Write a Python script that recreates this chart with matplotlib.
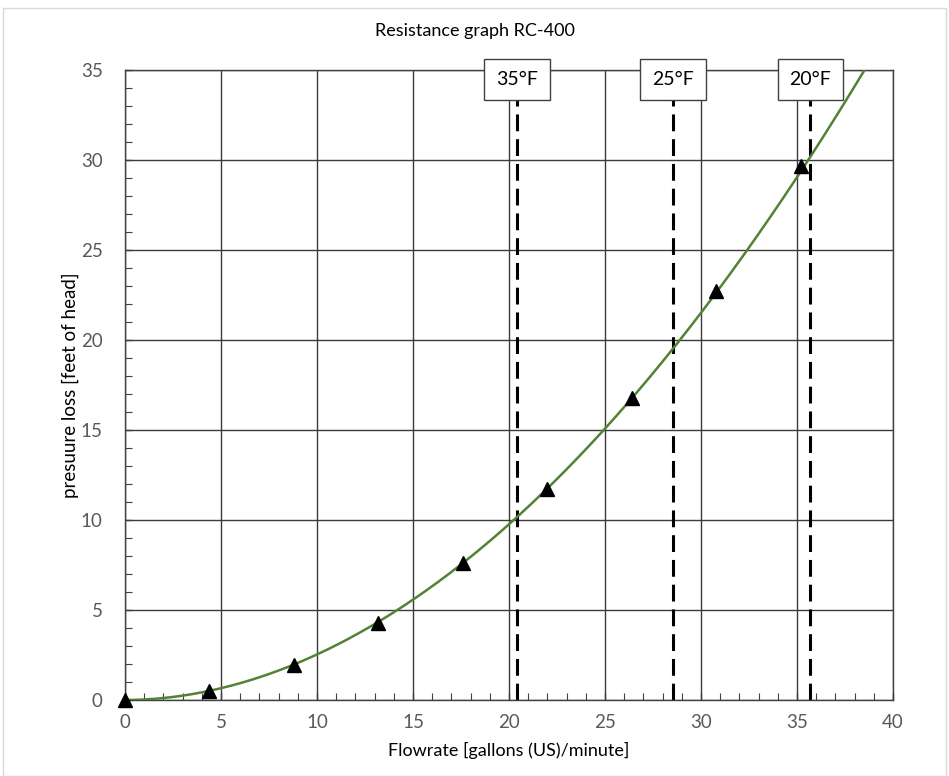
import numpy as np
import matplotlib
matplotlib.use("Agg")
import matplotlib.pyplot as plt
from matplotlib.patches import Rectangle
from matplotlib.ticker import MultipleLocator

plt.rcParams['font.family'] = ['Lato', 'DejaVu Sans']

# mesures (débit en gpm, perte de charge en pieds)
flow = [0, 4.4, 8.8, 13.2, 17.6, 22.0, 26.4, 30.8, 35.2]
loss = [0, 0.52, 1.94, 4.3, 7.6, 11.7, 16.8, 22.75, 29.65]

# limites de température
temp_flow = [20.4, 28.55, 35.7]
temp_labels = ["35°F", "25°F", "20°F"]

fig = plt.figure(figsize=(9.49, 7.76), dpi=100)
ax = fig.add_axes([125/949, 1-700/776, 768/949, 630/776])

# bordure de la zone graphique
fig.patches.append(Rectangle((3/949, 0), 943/949, 1-8/776, transform=fig.transFigure,
                             fill=False, edgecolor='#d9d9d9', lw=1))

# courbe de tendance (puissance) calculée depuis les mesures
x = np.array(flow[1:])
y = np.array(loss[1:])
b, lna = np.polyfit(np.log(x), np.log(y), 1)
xs = np.linspace(0, 40, 400)
ax.plot(xs, np.exp(lna) * xs**b, color='#548235', lw=1.8, zorder=3)

ax.plot(flow, loss, '^', color='black', ms=10, zorder=4, clip_on=False)

for xf, lab in zip(temp_flow, temp_labels):
    ax.axvline(xf, color='black', lw=2.2, dashes=(5.5, 2.6), zorder=2)
    ax.text(xf, 34.95, lab, ha='center', va='top', fontsize=14, zorder=5,
            bbox=dict(boxstyle='square,pad=0.62', fc='white', ec='#404040', lw=1))

ax.set_xlim(0, 40)
ax.set_ylim(0, 35)
ax.xaxis.set_major_locator(MultipleLocator(5))
ax.yaxis.set_major_locator(MultipleLocator(5))
ax.xaxis.set_minor_locator(MultipleLocator(1))
ax.yaxis.set_minor_locator(MultipleLocator(1))
ax.grid(True, which='major', color='#3a3a3a', lw=1, zorder=1)
ax.tick_params(which='both', direction='in', colors='#404040', labelcolor='#595959',
               labelsize=13.5)
ax.tick_params(which='major', length=5, width=1)
ax.tick_params(which='minor', length=5, width=0.8)
ax.tick_params(axis='y', which='major', pad=16)
ax.tick_params(axis='x', which='major', pad=10)
for s in ax.spines.values():
    s.set_color('#404040')
    s.set_linewidth(1)

ax.set_xlabel("Flowrate [gallons (US)/minute]", fontsize=13, labelpad=8)
ax.set_ylabel("presuure loss [feet of head]", fontsize=13.5, labelpad=1)
fig.text(475/949, 1-31/776, "Resistance graph RC-400", ha='center', va='center', fontsize=13)

plt.savefig('out.png', dpi=100)
